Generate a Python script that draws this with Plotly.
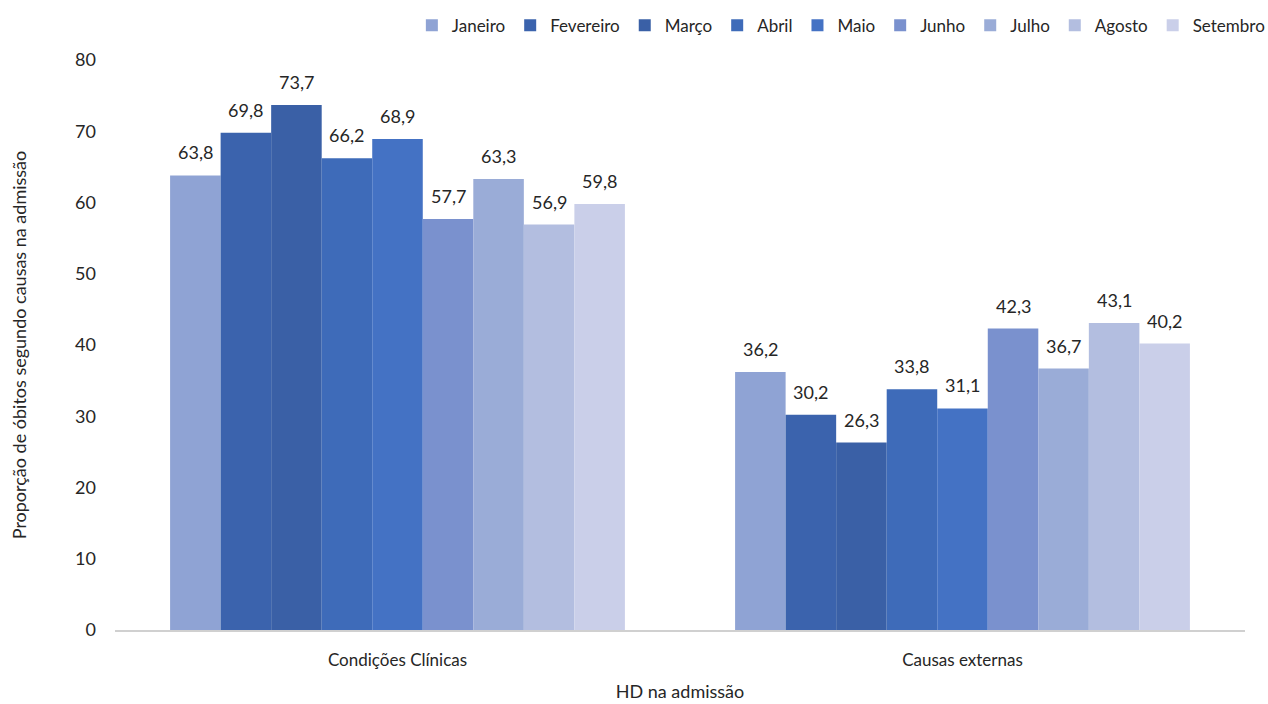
import plotly.graph_objects as go

categories = ["Condições Clínicas", "Causas externas"]
months = ["Janeiro", "Fevereiro", "Março", "Abril", "Maio", "Junho", "Julho", "Agosto", "Setembro"]
clinicas = [63.8, 69.8, 73.7, 66.2, 68.9, 57.7, 63.3, 56.9, 59.8]
externas = [36.2, 30.2, 26.3, 33.8, 31.1, 42.3, 36.7, 43.1, 40.2]
colors = ["#8FA3D4", "#3B63AD", "#3A60A6", "#3E6BB9", "#4472C4",
          "#7A91CE", "#9AACD7", "#B3BEE0", "#CACFE9"]

FONT = "Lato"
W, H = 1268, 704
ML, MR, MT, MB = 115, 23, 60, 74
BARGAP = 0.195

fig = go.Figure()
for i, m in enumerate(months):
    vals = [clinicas[i], externas[i]]
    fig.add_trace(go.Bar(
        name=m, x=categories, y=vals,
        marker=dict(color=colors[i], line=dict(width=0)),
    ))

# value labels above each bar, offset horizontally to sit over its bar in the group
cat_px = (W - ML - MR) / len(categories)
bar_px = cat_px * (1 - BARGAP) / len(months)
for i, m in enumerate(months):
    for c, v in zip(categories, [clinicas[i], externas[i]]):
        fig.add_annotation(
            x=c, y=v, xref="x", yref="y",
            text=f"{v:.1f}".replace(".", ","), showarrow=False,
            xshift=(i - (len(months) - 1) / 2) * bar_px, yshift=10,
            yanchor="bottom", font=dict(size=18, color="#262626", family=FONT),
        )

fig.update_layout(
    width=W, height=H,
    margin=dict(l=ML, r=MR, t=MT, b=MB, autoexpand=False),
    barmode="group", bargap=BARGAP, bargroupgap=0,
    plot_bgcolor="white", paper_bgcolor="white",
    font=dict(family=FONT, size=18, color="#262626"),
    legend=dict(orientation="h", x=1.022, xanchor="right", y=1.06, yanchor="middle",
                font=dict(size=17, color="#262626"), itemwidth=30,
                traceorder="normal"),
    xaxis=dict(title=dict(text="HD na admissão", font=dict(size=18), standoff=16),
               showline=True, linecolor="#D0D0D0", linewidth=1.5, automargin=False,
               tickfont=dict(size=17), ticks="", ticklabelstandoff=14),
    yaxis=dict(title=dict(text="Proporção de óbitos segundo causas na admissão", font=dict(size=18), standoff=43),
               range=[0, 80], dtick=10, showgrid=False, zeroline=False, automargin=False,
               tickfont=dict(size=18), ticklabelstandoff=18),
)

fig.write_html("out.html")
